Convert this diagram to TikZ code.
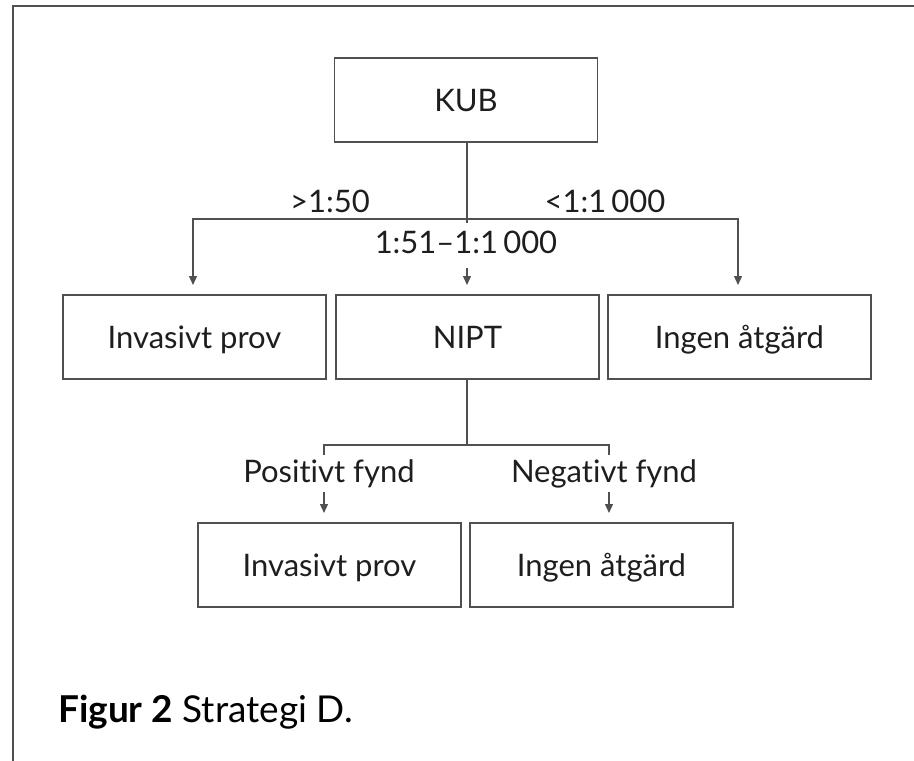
\documentclass[tikz,border=0pt]{standalone}
\usepackage{fontspec}
\setmainfont{Lato}[Ligatures=NoCommon]
\usetikzlibrary{arrows.meta}
\definecolor{linec}{RGB}{80,80,80}
\definecolor{textc}{RGB}{30,30,30}
\tikzset{
  box/.style={draw=linec, line width=1.3pt, minimum width=263pt, minimum height=84pt,
    inner sep=0pt, text height=22pt, text depth=0pt, font=\fontsize{31}{36}\selectfont, text=textc},
  lbl/.style={anchor=base, inner sep=0pt, font=\fontsize{31}{36}\selectfont, text=textc},
  conn/.style={draw=linec, line width=1.3pt},
  arr/.style={conn, -{Triangle[length=9pt,width=8pt]}},
}
\begin{document}
\begin{tikzpicture}[x=1pt,y=-1pt]
\useasboundingbox (0,0) rectangle (914,761);
% frame
\draw[linec, line width=1.5pt] (13,761) -- (13,6) -- (914,6);
% boxes
\node[box] (kub)  at (466,100) {KUB};
\node[box] (inv1) at (194.5,337) {Invasivt prov};
\node[box] (nipt) at (467.5,337) {NIPT};
\node[box] (ing1) at (739.5,337) {Ingen åtgärd};
\node[box] (inv2) at (329.5,565) {Invasivt prov};
\node[box] (ing2) at (601.5,565) {Ingen åtgärd};
% labels
\node[lbl] (l1) at (330,212) {>1:50};
\node[lbl] (l3) at (605,212) {<1:1\,000};
\node[lbl] (l2) at (466,253) {1:51–1:1\,000};
\node[lbl] (p) at (329,482) {Positivt fynd};
\node[lbl] (n) at (604,482) {Negativt fynd};
% top connectors
\coordinate (j1) at (467,219);
\coordinate (hl) at (193,219);
\coordinate (hr) at (738,219);
\coordinate (tl) at (193,285);
\coordinate (tr) at (738,285);
\coordinate (ms) at (467,268);
\coordinate (mt) at (467,285);
\coordinate (mk) at (467,223);
\draw[conn] (kub.south -| j1) -- (mk);
\draw[arr] (j1) -- (hl) -- (tl);
\draw[arr] (j1) -- (hr) -- (tr);
\draw[arr] (ms) -- (mt);
% lower connectors
\coordinate (j2) at (467,445);
\coordinate (pl) at (324,445);
\coordinate (pr) at (609,445);
\coordinate (pl2) at (324,455);
\coordinate (pr2) at (609,455);
\coordinate (as1) at (324,492);
\coordinate (at1) at (324,513);
\coordinate (as2) at (609,492);
\coordinate (at2) at (609,513);
\draw[conn] (nipt.south -| j2) -- (j2);
\draw[conn] (pl2) -- (pl) -- (pr) -- (pr2);
\draw[arr] (as1) -- (at1);
\draw[arr] (as2) -- (at2);
% caption
\node[anchor=base west, inner sep=0pt, text=black, font=\fontsize{37}{42}\selectfont] (cap) at (58,722) {\textbf{Figur 2} Strategi D.};
\end{tikzpicture}
\end{document}
